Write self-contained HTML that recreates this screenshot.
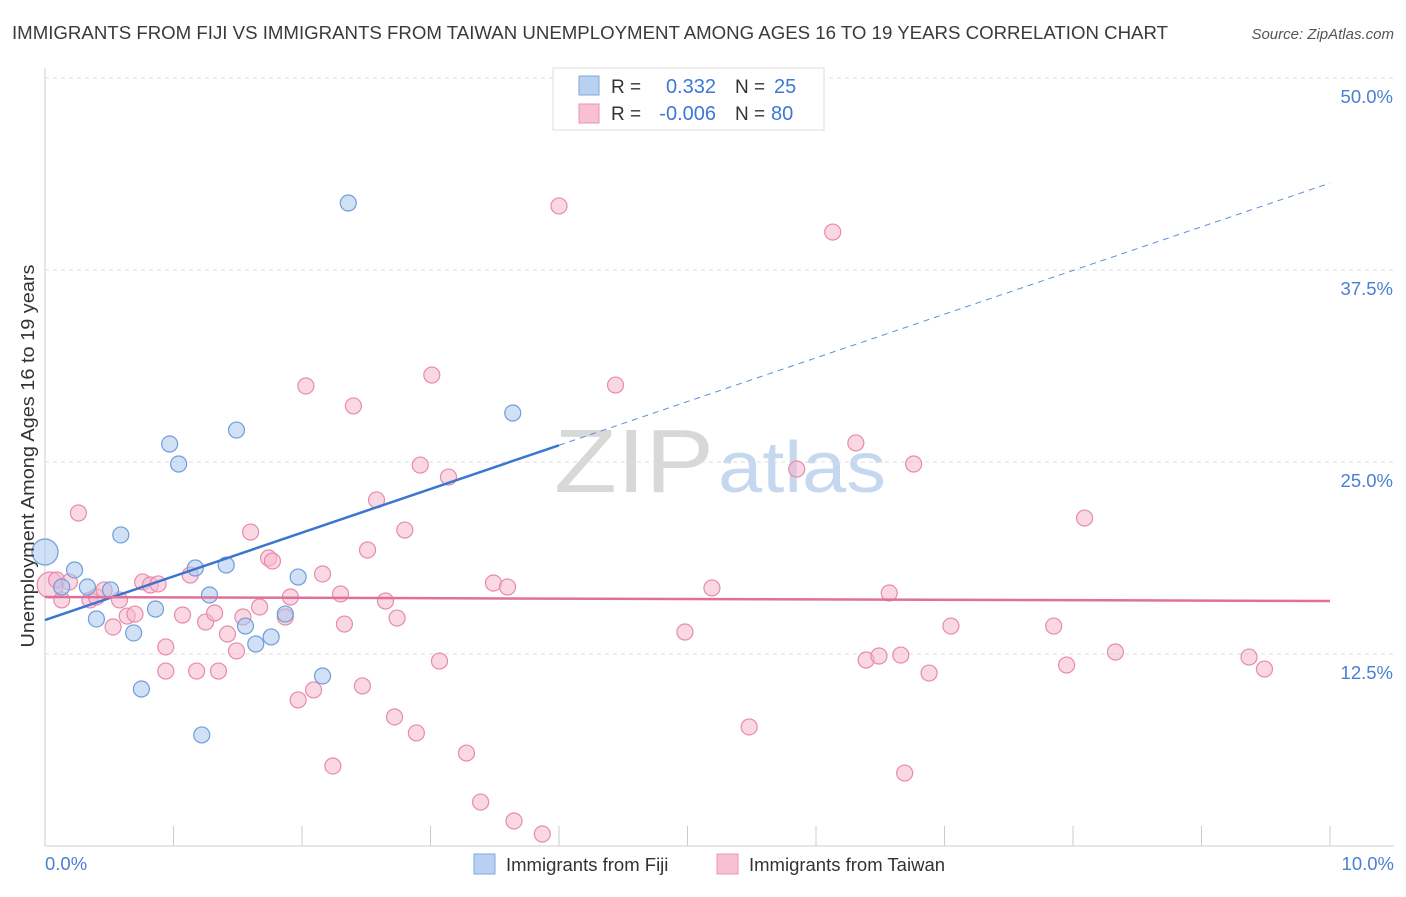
<!DOCTYPE html>
<html><head><meta charset="utf-8"><style>
body{margin:0;background:#fff;font-family:"Liberation Sans",sans-serif;}
svg text{font-family:"Liberation Sans",sans-serif;}
</style></head><body>
<svg id="chart" width="1406" height="892" xmlns="http://www.w3.org/2000/svg">
<text x="12" y="39" font-size="18.2" fill="#3a3a3a" textLength="1156" lengthAdjust="spacingAndGlyphs">IMMIGRANTS FROM FIJI VS IMMIGRANTS FROM TAIWAN UNEMPLOYMENT AMONG AGES 16 TO 19 YEARS CORRELATION CHART</text>
<text x="1394" y="39" font-size="15" fill="#555" text-anchor="end" font-style="italic">Source: ZipAtlas.com</text>
<g>
<text x="554" y="492" font-size="90" fill="#d8d8d8" font-family="Liberation Serif,serif" textLength="160" lengthAdjust="spacingAndGlyphs">ZIP</text>
<text x="718" y="492" font-size="72" fill="#c5d8ef" textLength="168" lengthAdjust="spacingAndGlyphs">atlas</text>
</g>
<g id="grid"></g>
<g id="axes"></g>
<g id="marks"></g>
<text transform="translate(34,456) rotate(-90)" font-size="18.5" fill="#333" text-anchor="middle" textLength="383" lengthAdjust="spacingAndGlyphs">Unemployment Among Ages 16 to 19 years</text>
<text x="45" y="870" font-size="18.5" fill="#4a7fd4">0.0%</text>
<text x="1394" y="870" font-size="18.5" fill="#4a7fd4" text-anchor="end">10.0%</text>
<g>
<rect x="553" y="68" width="271" height="62" fill="#fff" stroke="#ddd"/>
<rect x="579" y="76" width="20" height="19" fill="#b9d1f1" stroke="#7fa7dd"/>
<rect x="579" y="104" width="20" height="19" fill="#f7c1d3" stroke="#e995b3"/>
<text x="611" y="93" font-size="19" fill="#333">R = </text><text x="716" y="93" font-size="20" fill="#3c78d8" text-anchor="end">0.332</text>
<text x="735" y="93" font-size="19" fill="#333">N = </text><text x="774" y="93" font-size="20" fill="#3c78d8">25</text>
<text x="611" y="120" font-size="19" fill="#333">R = </text><text x="716" y="120" font-size="20" fill="#3c78d8" text-anchor="end">-0.006</text>
<text x="735" y="120" font-size="19" fill="#333">N = </text><text x="771" y="120" font-size="20" fill="#3c78d8">80</text>
</g>
<g>
<rect x="474" y="854" width="21" height="20" fill="#b9d1f1" stroke="#7fa7dd"/>
<text x="506" y="871" font-size="18.5" fill="#333">Immigrants from Fiji</text>
<rect x="717" y="854" width="21" height="20" fill="#f7c1d3" stroke="#e995b3"/>
<text x="749" y="871" font-size="18.5" fill="#333">Immigrants from Taiwan</text>
</g>
</svg>
<script>
const yTicks=[12.5,25,37.5,50];
const yTickLabels=["12.5%","25.0%","37.5%","50.0%"];
const xTicks=[0,1,2,3,4,5,6,7,8,9,10];
const fijiX=[0,0.23,0.13,0.33,0.51,0.40,0.59,0.69,0.86,0.75,0.97,1.04,1.17,1.28,1.22,1.41,1.49,1.56,1.64,1.76,1.87,1.97,2.16,2.36,3.64];
const fijiY=[19.14,17.97,16.86,16.86,16.67,14.78,20.25,13.87,15.43,10.22,26.17,24.87,18.10,16.34,7.23,18.29,27.08,14.32,13.15,13.61,15.10,17.51,11.07,41.86,28.19];
const taiwanX=[0.04,0.13,0.09,0.26,0.19,0.35,0.40,0.46,0.53,0.58,0.64,0.70,0.76,0.82,0.88,0.94,0.94,1.07,1.13,1.18,1.25,1.32,1.35,1.42,1.49,1.54,1.60,1.67,1.74,1.77,1.87,1.91,1.97,2.03,2.09,2.16,2.30,2.33,2.40,2.47,2.51,2.58,2.65,2.72,2.74,2.80,2.89,2.92,3.01,3.07,3.14,3.28,3.39,3.49,3.60,3.65,3.87,4.00,4.44,4.98,5.19,5.48,5.85,6.13,6.31,6.39,6.49,6.66,6.69,6.76,6.88,7.05,7.85,7.95,8.09,8.33,9.37,9.49,6.57,2.24];
const taiwanY=[16.99,16.02,17.32,21.68,17.19,16.02,16.21,16.67,14.26,16.02,14.97,15.10,17.19,16.99,17.06,12.96,11.39,15.04,17.64,11.39,14.58,15.17,11.39,13.80,12.70,14.91,20.44,15.56,18.75,18.55,14.91,16.21,9.51,29.95,10.16,17.71,16.41,14.45,28.65,10.42,19.27,22.53,15.95,8.40,14.84,20.57,7.36,24.80,30.66,12.04,24.02,6.05,2.86,17.12,16.86,1.63,0.78,41.67,30.01,13.93,16.80,7.75,24.54,39.97,26.24,12.11,12.37,12.43,4.75,24.87,11.26,14.32,14.32,11.78,21.35,12.63,12.30,11.52,16.47,5.21];
const fijiTrend=[14.71,43.16];
const taiwanTrend=[16.21,15.95];
const fijiSolidEnd=4.0;

const NS="http://www.w3.org/2000/svg";
const X0=45,X1=1330,Y0=846,Y50=78;
const sx=v=>X0+(X1-X0)*v/10;
const sy=v=>Y0-(Y0-Y50)*v/50;
function mk(tag,attrs,parent){const e=document.createElementNS(NS,tag);for(const k in attrs)e.setAttribute(k,attrs[k]);parent.appendChild(e);return e;}
const grid=document.getElementById('grid'),axes=document.getElementById('axes'),marks=document.getElementById('marks');
yTicks.forEach((t,i)=>{
  const l=mk('line',{x1:X0,x2:1394,y1:sy(t),y2:sy(t),stroke:'#ddd','stroke-dasharray':'4,4'},grid);
  
  
  const tx=mk('text',{x:1393,y:sy(t)+25,'font-size':18.5,fill:'#4a7fd4','text-anchor':'end'},grid);
  tx.textContent=yTickLabels[i];
  
  
});
const xa=mk('line',{x1:X0,x2:1394,y1:Y0,y2:Y0,stroke:'#ccc'},axes);


const ya=mk('line',{x1:X0,x2:X0,y1:68,y2:Y0,stroke:'#ccc'},axes);


xTicks.forEach(t=>{
  const l=mk('line',{x1:sx(t),x2:sx(t),y1:Y0,y2:Y0-20,stroke:'#ccc'},axes);
  
  
});
function dots(xs,ys,fill,stroke,name){
  xs.forEach((x,i)=>{
    const r=(i===0&&x<0.05)?13:8;
    const c=mk('circle',{cx:sx(x),cy:sy(ys[i]),r:r,fill:fill,'fill-opacity':0.55,stroke:stroke,'stroke-width':1.2},marks);
    
    
  });
}
dots(taiwanX,taiwanY,'#f5b8cc','#e88aab','taiwan-point');
dots(fijiX,fijiY,'#a9c6ec','#6f9ddb','fiji-point');
const fy=x=>fijiTrend[0]+(fijiTrend[1]-fijiTrend[0])*x/10;
let t1=mk('line',{x1:sx(0),y1:sy(fy(0)),x2:sx(fijiSolidEnd),y2:sy(fy(fijiSolidEnd)),stroke:'#3a76d0','stroke-width':2.5},marks);


let t2=mk('line',{x1:sx(fijiSolidEnd),y1:sy(fy(fijiSolidEnd)),x2:sx(10),y2:sy(fy(10)),stroke:'#5b8fd8','stroke-width':1,'stroke-dasharray':'6,5'},marks);


let t3=mk('line',{x1:sx(0),y1:sy(taiwanTrend[0]),x2:sx(10),y2:sy(taiwanTrend[1]),stroke:'#e0709a','stroke-width':2.5},marks);


</script>
</body></html>
